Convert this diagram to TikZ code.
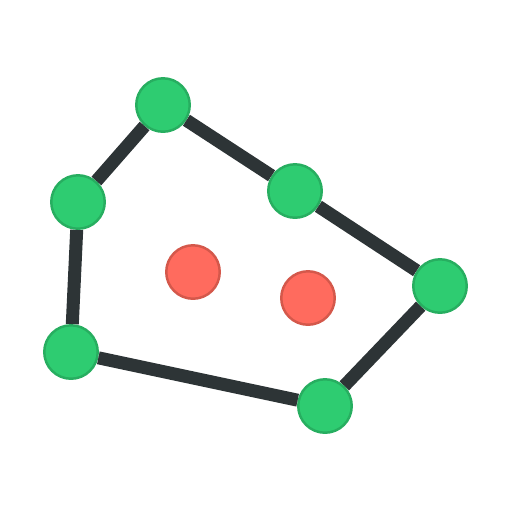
\documentclass[tikz,border=0pt]{standalone}
\usepackage{tikz}
\definecolor{ngreen}{HTML}{2ECC71}
\definecolor{ngreenedge}{HTML}{27AE60}
\definecolor{nred}{HTML}{FF6B5E}
\definecolor{nrededge}{HTML}{D4584B}
\definecolor{hulledge}{HTML}{2D3436}

\begin{document}
\begin{tikzpicture}[
  x=0.02cm, y=-0.02cm,
  vert/.style={circle, draw=ngreenedge, fill=ngreen, line width=1.4pt,
    minimum size=1.07cm, inner sep=0pt},
  inpt/.style={vert, draw=nrededge, fill=nred},
  hull/.style={hulledge, line width=7.4pt},
]
\useasboundingbox (0,0) rectangle (512,512);
% hull vertices
\node[vert] (top) at (163,105) {};
\node[vert] (upl) at (78,202) {};
\node[vert] (mid) at (295,191) {};
\node[vert] (rgt) at (440,286) {};
\node[vert] (lwl) at (71,352) {};
\node[vert] (bot) at (325,406) {};
% interior points
\node[inpt] (pa) at (193,272) {};
\node[inpt] (pb) at (308,298) {};
% hull edges
\draw[hull] (top) -- (mid);
\draw[hull] (mid) -- (rgt);
\draw[hull] (rgt) -- (bot);
\draw[hull] (bot) -- (lwl);
\draw[hull] (lwl) -- (upl);
\draw[hull] (upl) -- (top);
\end{tikzpicture}
\end{document}
